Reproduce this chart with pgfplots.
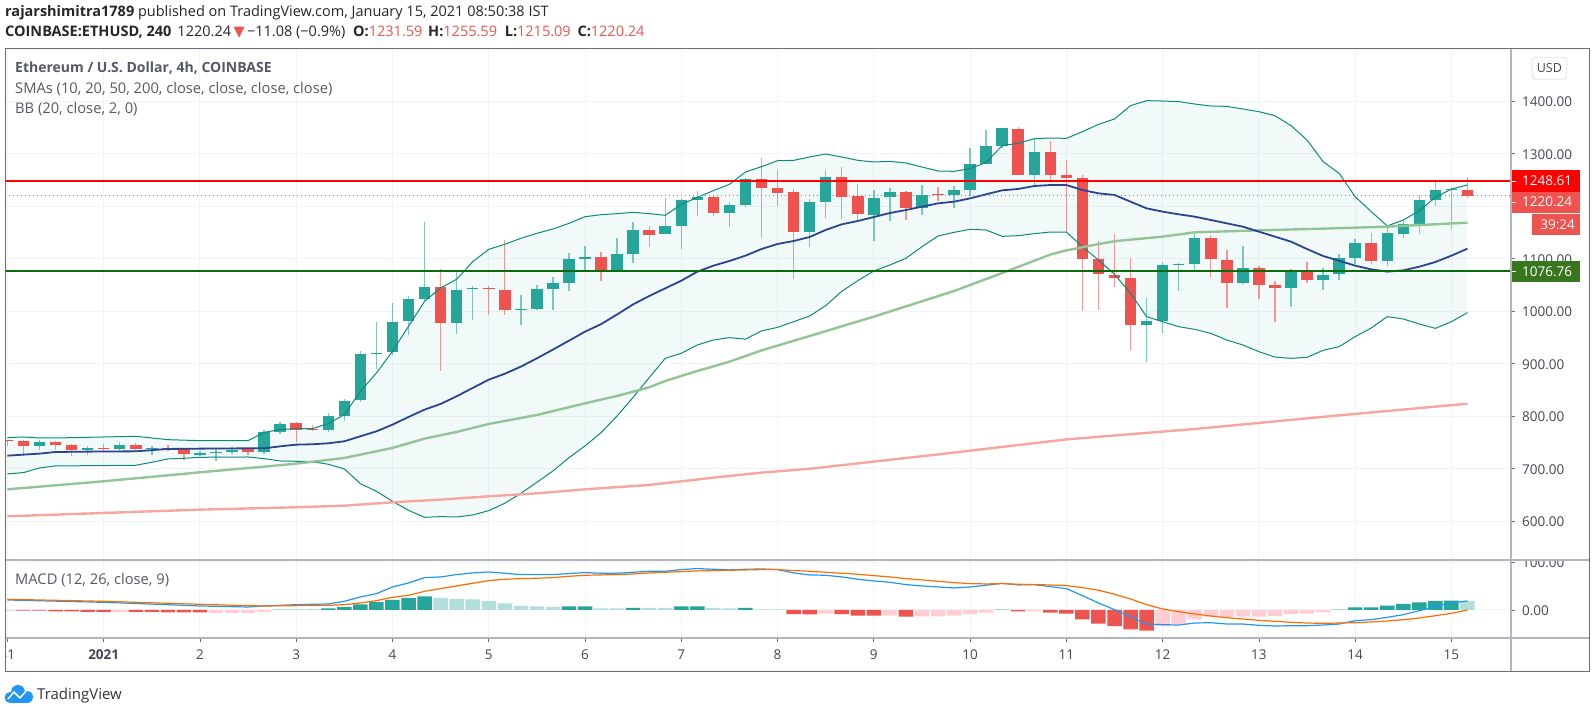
\documentclass[border=0pt]{standalone}
\usepackage{fontspec}
\usepackage{pgfplots}
\usepackage{pgfplotstable}
\pgfplotsset{compat=1.18}
\usepgfplotslibrary{fillbetween}
\setmainfont{Open Sans}
\newfontfamily\dejavu{DejaVu Sans}
\definecolor{cgreen}{HTML}{26A69A}
\definecolor{cred}{HTML}{EF5350}
\definecolor{cpink}{HTML}{FFCDD2}
\definecolor{clight}{HTML}{B2DFDB}
\definecolor{bbline}{HTML}{0B8A7A}
\definecolor{navy1}{HTML}{2B4490}
\definecolor{sma50}{HTML}{93C495}
\definecolor{sma200}{HTML}{F9A59F}
\definecolor{gridc}{HTML}{F0F3FA}
\definecolor{txt}{HTML}{434651}
\definecolor{axisc}{HTML}{B2B5BE}
\definecolor{framec}{HTML}{6A6D78}
\definecolor{macdb}{HTML}{2196F3}
\definecolor{macdo}{HTML}{FF6D00}
\definecolor{tagg}{HTML}{38761D}
\definecolor{hl}{HTML}{0B6B0B}
\pgfplotstableread{
k top bot hi lo
2 750.5 743.5 755 736.5
5 739.7 736.5 744 725.7
7 746 737.8 750.5 731.4
9 740.3 738.4 744 726.3
12 730.8 727 733 724
13 732.7 731.4 738 715.5
14 736.5 732.7 742 727.6
16 770 731.4 774.6 729
17 786 770 788.6 766.3
20 800.6 773.3 807 769.5
21 829.8 801.3 833.6 791.7
22 919.3 830.5 925 826.7
23 921.3 920 979 890.8
24 980.3 921.9 1015 917.4
25 1023.5 981 1028.6 954.3
26 1046.3 1024 1169.5 1017
28 1041.3 977.8 1075 956.2
29 1043.8 1041.9 1049 982.8
32 1004.4 1002.5 1030.5 974.6
33 1043.1 1003.7 1050 1002.5
34 1053.3 1043.1 1066 1002.5
35 1099.6 1054.5 1111.7 1039.3
36 1103.4 1100.2 1125 1076.8
38 1109 1076.8 1139 1076.8
39 1154.9 1109.8 1170 1091.4
41 1163 1147.2 1215.8 1147.2
42 1211.3 1163 1215 1119.3
43 1217.7 1212 1229 1181.5
45 1202.5 1187.9 1208 1160
46 1251.3 1202.5 1253 1199.3
50 1208.2 1151.7 1214 1123
51 1255.2 1208.8 1269 1177.7
54 1215.8 1183.4 1230.4 1134.5
55 1227.2 1217 1234.2 1172.6
57 1220.9 1197.4 1240 1184
59 1231 1221.5 1238.6 1196
60 1280.5 1231.7 1310.4 1219.6
61 1314.8 1281.2 1345.3 1280.5
62 1349 1314.8 1349 1310.4
64 1303.4 1260.2 1327.5 1240.5
71 982.1 973.9 1024.7 904
72 1088.2 982.1 1094.5 959.3
73 1089.4 1087.5 1092 1039.3
74 1140.2 1089.4 1149.8 1076.8
77 1081.8 1053.9 1125 1052.6
80 1075.5 1045 1080 1008.8
82 1069.1 1060.3 1083 1041.2
83 1101.5 1071 1109.1 1060.3
84 1130 1102.2 1137 1090.7
86 1148.5 1095.8 1161.2 1086.9
87 1165.6 1147.9 1172.6 1139.6
88 1211.3 1166.3 1221.5 1147.9
89 1230.4 1212.6 1247.5 1201.2
90 1233.6 1231 1234.8 1157.4
}\candG
\pgfplotstableread{
k top bot hi lo
0 754.3 753 755.5 742.8
1 753 743.5 754 729
3 750.5 746 753 736.5
4 746 736.5 748 724
6 739.7 737.8 747 732.7
8 746 737.8 748.6 734
10 739.7 737 746 734
11 737 727.6 738 717.5
15 737.8 731.4 740 725.7
18 786.7 774.6 788.6 751.7
19 775.9 773.3 783.5 771.4
27 1046.3 977.8 1080 885.7
30 1043.8 1041.9 1047.6 992.4
31 1041.3 1001.9 1135.8 993.6
37 1102.8 1076.8 1113.6 1058.3
40 1154.2 1146 1162.5 1123
44 1217.7 1187.2 1219.6 1181.5
47 1251.3 1234.8 1292 1139.6
48 1234.8 1226 1269.8 1201.2
49 1227.2 1151.7 1233 1062
52 1255.2 1218.3 1274.8 1176.4
53 1219.6 1184.7 1242.5 1172
56 1227.2 1197.4 1229 1174.5
58 1222.8 1220.9 1236.7 1210.7
63 1347.2 1260.2 1351 1260.2
65 1303.4 1259.6 1325 1250
66 1259 1254.5 1288.2 1151.7
67 1254.5 1100.2 1259.6 1000.6
68 1099.6 1070.4 1133.9 1002.5
69 1069.1 1062.8 1147.2 1046.9
70 1062.8 973.9 1101.5 926.3
75 1140.2 1099 1144.7 1066
76 1098.3 1053.9 1116.8 1006.3
78 1081.8 1049.4 1086.3 1023.4
79 1049.4 1045 1057 979.6
81 1075.5 1059.6 1093.9 1053.9
85 1130 1095.8 1148.5 1089.4
91 1231.59 1220.24 1255.59 1215.09
}\candR
\pgfplotstableread{
k v
0 759.4
1 760.6
2 758.7
3 758.7
8 761.9
10 755.5
12 753.6
15 753.6
16 769.5
17 774.6
18 776.5
19 776.5
20 786
21 803.2
22 847.6
23 882.5
24 923.8
25 971.4
26 1019
27 1044.4
28 1061
29 1094.6
30 1118
31 1127.6
32 1139
33 1148.5
34 1156.8
35 1167.5
36 1180.2
37 1184
38 1186
39 1188.5
40 1186
41 1182.8
42 1203.7
43 1217
44 1229.8
45 1241.8
46 1265.3
47 1275.5
48 1286.9
49 1287.5
50 1293.9
51 1299.6
52 1293.9
53 1287.5
54 1284.4
55 1285.6
56 1282.5
57 1274.8
58 1267.2
59 1266.6
60 1271.7
61 1283.7
62 1315.5
63 1320
64 1328.8
65 1330
66 1329.4
67 1342.1
68 1356.1
69 1366.3
70 1391.7
71 1401.2
72 1400.5
73 1399.3
74 1394.8
75 1391
76 1390.4
77 1385.3
78 1380.2
79 1372.6
80 1353.6
81 1326.3
82 1285
83 1262.8
84 1218.3
85 1189.8
86 1162.5
87 1173.9
88 1191.7
89 1217
90 1232.9
91 1240.6
}\bbU
\pgfplotstableread{
k v
0 690.2
1 692.7
2 701.6
3 705.4
8 706.7
9 712.4
10 718.7
11 720
12 721.9
15 722.5
16 719.3
17 714.9
18 714.3
19 713.6
20 708.6
21 699.7
22 671.7
23 657.1
24 638.1
25 620.9
26 607.6
27 608.9
28 608.2
29 612
30 620.3
31 634.3
32 653.3
33 674.3
34 695.8
35 721.2
36 743.5
37 768.9
38 800.6
39 836.1
40 873.6
41 910.4
42 920
43 935.8
44 945.4
45 949.8
46 947
47 962.5
48 969.4
49 980.2
50 991
51 1010.7
52 1038
53 1058.3
54 1076.8
55 1088.2
56 1100.9
57 1123
58 1143.4
59 1150.4
60 1156.1
61 1154.8
62 1142.8
63 1144
64 1147.9
65 1151
66 1151
67 1123
68 1097.7
69 1070.4
70 1034.2
71 989.8
72 980.2
73 970.7
74 965.6
75 958
76 945.3
77 935.8
78 923.1
79 912.9
80 910.4
81 912.3
82 925.6
83 932.6
84 951.7
85 968.2
86 989.8
87 985.3
88 975.8
89 967.5
90 980.2
91 997.4
}\bbL
\pgfplotstableread{
k v
0 725
2 728.9
3 732
5 732.7
8 733.3
10 737.8
12 738.4
15 739
16 739
17 742.8
18 746
19 746.7
20 748.6
21 752.4
22 761.9
23 771.4
24 784.1
25 798.7
26 812.7
27 823.5
28 838.1
29 854
30 869.8
31 881
32 894.6
33 910.4
34 927
35 944
36 961.2
37 975.5
38 994
39 1013.2
40 1029.1
41 1043.7
42 1058.3
43 1075.5
44 1086.9
45 1095.8
46 1106
47 1118.6
48 1128.2
49 1133.9
50 1141.5
51 1154.9
52 1165.6
53 1172
54 1179.6
55 1187.2
56 1192.9
57 1199.3
58 1205.6
59 1208.8
60 1215.1
61 1222.8
62 1230.4
63 1233
64 1238.6
65 1240.5
66 1240.5
67 1231
68 1224.7
69 1221.5
70 1208.8
71 1196.1
72 1189.8
73 1184.7
74 1180.2
75 1173.9
76 1167.5
77 1161.2
78 1151.7
79 1142.2
80 1132.6
81 1118.6
82 1105.3
83 1096.4
84 1086.9
85 1079.9
86 1075.5
87 1078
88 1085
89 1093.9
90 1106
91 1119.3
}\smaA
\pgfplotstableread{
k v
0 660.9
6 676.2
12 693.3
16 704.1
18 709.8
21 720.6
24 739.7
26 757.5
28 770.2
30 785.4
33 802.5
36 824.7
38 838.7
40 855.2
41 867.3
43 886.3
45 904
47 925.5
50 952.9
54 989.8
59 1038.6
62 1072.9
65 1108
66 1116
67 1122
68 1128
69 1133.5
72 1142.2
74 1150.4
78 1154.2
82 1157.4
86 1161.2
91 1168.8
}\smaB
\pgfplotstableread{
k v
0 609.5
6 615.9
12 622.2
18 626.7
21 629.8
24 636.2
27 641.3
30 647.6
33 653.3
36 660.9
40 669.2
44 683.1
47 692.7
50 700
58 727.4
66 756
74 775.8
82 799
91 824
}\smaC
\pgfplotstableread{
k v
0 21
6 16.1
10 11.2
12 8.4
15 6.3
16 8.4
18 11.2
20 12.6
21 18.2
22 27.3
23 34.3
24 48.3
25 56.7
26 67.9
27 69.3
28 74.2
29 77.7
30 79.8
31 77
32 74.2
33 74.2
34 74.2
35 76.3
36 78.4
37 77
38 77
39 79.1
40 81.2
41 81.2
42 84.7
43 86.8
44 85.4
45 84
46 85.4
47 86
48 84.7
49 77.7
50 73.5
51 72.8
52 69.3
53 64.4
54 60.9
55 58.1
56 53.2
57 50.4
58 48.3
59 46.2
60 48.3
61 51.8
62 56
63 52.5
64 53.2
65 49
66 44.8
67 30.1
68 14.7
69 0.7
70 -14
71 -29.4
72 -30.8
73 -31.5
74 -27.3
75 -26.6
76 -29.4
77 -29.4
78 -32.2
79 -33.6
80 -32.9
81 -32.9
82 -31.5
83 -29.4
84 -22.4
85 -20.3
86 -15.4
87 -9.8
88 -1.4
89 7.7
90 14.7
91 18.9
}\macdL
\pgfplotstableread{
k v
0 22.4
6 18.2
10 14
12 11.9
15 9.1
16 8.4
18 9.1
20 9.8
21 11.2
22 14.7
23 19.6
24 26.6
25 30.8
26 39.2
27 44.8
28 50.4
29 56
30 61.6
31 64.4
32 65.8
33 66.5
34 67.9
35 70.7
36 72.8
37 73.5
38 74.2
39 75.6
40 77.7
41 79.1
42 80.5
43 81.9
44 82.6
45 83.3
46 84
47 84.7
48 84.7
49 82.6
50 81.2
51 79.1
52 77
53 74.9
54 72
55 69.3
56 65.8
57 63
58 60.2
59 57.4
60 55.3
61 54.6
62 55.3
63 53.9
64 53.2
65 52.5
66 51.1
67 46.9
68 41.3
69 32.9
70 23.1
71 11.2
72 2.1
73 -3.5
74 -8.4
75 -12.6
76 -16.1
77 -18.9
78 -21.7
79 -23.8
80 -25.9
81 -27.3
82 -28
83 -27.3
84 -26.6
85 -25.2
86 -23.1
87 -20.3
88 -16.8
89 -11.9
90 -7
91 0
}\macdS
\newcommand{\candles}[2]{%
  \addplot[draw=none, mark=none, forget plot,
    error bars/.cd, y dir=both, y explicit, error mark=none,
    error bar style={line width=1.4pt, color=#2, opacity=0.6}]
    table[x=k, y=top, y error plus expr=\thisrow{hi}-\thisrow{top}, y error minus expr=\thisrow{top}-\thisrow{lo}] {#1};
  \addplot[draw=none, mark=none, forget plot,
    error bars/.cd, y dir=minus, y explicit, error mark=none,
    error bar style={line width=11.5pt, color=#2}]
    table[x=k, y=top, y error minus expr=\thisrow{top}-\thisrow{bot}] {#1};
}
\begin{document}
\begin{tikzpicture}
\begin{axis}[
  name=main, at={(5pt,148pt)}, anchor=south west,
  scale only axis, width=1506pt, height=509pt,
  xmin=-0.15, xmax=93.71, ymin=530.1, ymax=1499.6,
  axis line style={draw=none},
  xtick={0,6,...,90}, xticklabels={}, major x tick style={draw=none},
  ytick={600,700,800,900,1000,1100,1200,1300,1400},
  yticklabels={600.00,700.00,800.00,900.00,1000.00,1100.00,{},1300.00,1400.00},
  ytick pos=right, yticklabel pos=right, ytick align=outside,
  major tick length=4pt, y tick style={color=framec,line width=0.8pt},
  yticklabel style={font=\fontsize{13.5}{14}\selectfont, text=txt, inner sep=0pt, xshift=7pt, yshift=-0.5pt},
  grid=major, major grid style={color=gridc, line width=1pt},
]
\addplot[draw=none, name path=U, forget plot] table[x=k,y=v] {\bbU};
\addplot[draw=none, name path=L, forget plot] table[x=k,y=v] {\bbL};
\addplot[fill=cgreen, fill opacity=0.06, forget plot] fill between[of=U and L];
\candles{\candG}{cgreen}
\candles{\candR}{cred}
\addplot[color=bbline, line width=1pt] table[x=k,y=v] {\bbU};
\addplot[color=bbline, line width=1pt] table[x=k,y=v] {\bbL};
\addplot[color=sma200, line width=2.4pt] table[x=k,y=v] {\smaC};
\addplot[color=sma50, line width=2.4pt] table[x=k,y=v] {\smaB};
\addplot[color=navy1, line width=1.8pt] table[x=k,y=v] {\smaA};
\addplot[color=cred, line width=1pt, dash pattern=on 1pt off 3pt] coordinates {(-0.15,1220.24)(93.71,1220.24)};
\addplot[color=red, line width=2.4pt] coordinates {(-0.15,1248.61)(93.71,1248.61)};
\addplot[color=hl, line width=2.4pt] coordinates {(-0.15,1076.76)(93.71,1076.76)};
\end{axis}
\begin{axis}[
  name=macd, at={(5pt,68pt)}, anchor=south west,
  scale only axis, width=1506pt, height=77pt,
  xmin=-0.15, xmax=93.71, ymin=-58.7, ymax=102.7,
  axis line style={draw=none},
  xtick={0,6,...,90},
  xticklabels={31,\textbf{2021},2,3,4,5,6,7,8,9,10,11,12,13,14,15},
  ytick={0,100}, yticklabels={0.00,100.00},
  xtick pos=bottom, xtick align=outside,
  ytick pos=right, yticklabel pos=right, ytick align=outside,
  major tick length=4pt, tick style={color=framec,line width=0.8pt},
  yticklabel style={font=\fontsize{13.5}{14}\selectfont, text=txt, inner sep=0pt, xshift=7pt, yshift=-0.5pt},
  xticklabel style={font=\fontsize{13.5}{14}\selectfont, text=txt, inner sep=0pt, yshift=-8pt},
  grid=major, major grid style={color=gridc, line width=1pt},
]
\addplot[ybar, bar width=14.5pt, bar shift=0pt, fill=cred, draw=none, forget plot] coordinates {
(1,-1.4)(2,-1.4)(3,-2.8)(4,-2.8)(5,-4.2)(6,-4.2)(8,-4.2)(9,-4.2)(10,-4.9)(11,-4.9)(12,-4.9)
(49,-8.4)(50,-9.1)(52,-8.4)(53,-11.9)(54,-11.9)(56,-14)(63,-2.8)(65,-5.6)(66,-7.7)(67,-19.6)(68,-28.7)(69,-33.6)(70,-40.6)(71,-43.4)};
\addplot[ybar, bar width=14.5pt, bar shift=0pt, fill=cpink, draw=none, forget plot] coordinates {
(0,-2.1)(7,-4.2)(13,-6.3)(14,-6.3)(15,-6.3)(16,-4.2)(51,-7.7)(55,-11.9)(57,-13.3)(58,-13.3)(59,-11.9)(60,-8.4)(61,-5.6)(64,-2.8)
(72,-33.6)(73,-30.1)(74,-19.6)(75,-14)(76,-14.7)(77,-14)(78,-14)(79,-12.6)(80,-8.4)(81,-7.7)(82,-4.9)};
\addplot[ybar, bar width=14.5pt, bar shift=0pt, fill=cgreen, draw=none, forget plot] coordinates {
(17,.7)(18,.7)(19,.7)(20,3.5)(21,6.3)(22,11.9)(23,16.8)(24,21)(25,25.2)(26,28.7)(35,7.7)(36,7.7)(39,4.2)(42,7.7)(43,7.7)(46,4.2)(62,.7)
(83,.7)(84,5.6)(85,5.6)(86,9.1)(87,12.6)(88,16.1)(89,18.9)(90,19.6)};
\addplot[ybar, bar width=14.5pt, bar shift=0pt, fill=clight, draw=none, forget plot] coordinates {
(27,25.2)(28,23.1)(29,22.4)(30,18.9)(31,14)(32,8.4)(33,7.7)(34,6.3)(37,3.5)(38,3.5)(40,4.2)(41,4.2)(44,4.2)(45,3.5)(47,1.4)(48,1.4)(91,18.9)};
\addplot[color=macdb, line width=1.2pt] table[x=k,y=v] {\macdL};
\addplot[color=macdo, line width=1.2pt] table[x=k,y=v] {\macdS};
\end{axis}
\begin{scope}[x=1pt,y=-1pt,yshift=706pt]
% masks and frame
\fill[white] (0,640) rectangle (4.5,671);
\fill[white] (1512,548) rectangle (1588,559);
\draw[axisc, line width=2.5pt] (5,560) -- (1589,560);
\draw[axisc, line width=1.5pt] (5,638) -- (1589,638);
\draw[axisc, line width=1.5pt] (1511,49) -- (1511,672);
\draw[framec, line width=1pt] (5,48.5) rectangle (1589.5,672);
% price tags
\fill[red] (1511.8,170.3) rectangle (1580,191.7);
\fill[cred] (1511.8,191.7) rectangle (1580,212.7);
\fill[cred] (1532,214) rectangle (1580,235);
\fill[tagg] (1511.8,260.7) rectangle (1580,281.7);
\tikzset{tag/.style={text=white, anchor=base west, inner sep=0pt, font=\fontsize{13.5}{14}\selectfont}}
\node[tag] at (1522,186) {1248.61};
\node[tag] at (1522,207) {1220.24};
\node[tag, anchor=base east] at (1575,229.5) {39:24};
\node[tag] at (1522,276.2) {1076.76};
\draw[white, line width=0.8pt] (1511.8,181) -- (1515.5,181);
\draw[white, line width=0.8pt] (1511.8,202) -- (1515.5,202);
\draw[white, line width=0.8pt] (1511.8,271) -- (1515.5,271);
% USD
\draw[fill=white, draw=gridc!70!framec!60, rounded corners=4pt, line width=0.8pt] (1532,57.3) rectangle (1566.7,79.3);
\node[anchor=center, text=txt, inner sep=0pt, font=\fontsize{12.5}{13}\selectfont] at (1549.3,68.3) {USD};
% headers
\tikzset{hd/.style={anchor=base west, inner sep=0pt, text=black!85, font=\fontsize{14.5}{15}\selectfont}}
\node[hd] at (5,17) {\textbf{rajarshimitra1789} published on TradingView.com, January 15, 2021 08:50:38 IST};
\node[hd] at (5,37) {\textbf{COINBASE:ETHUSD, 240}\hspace{6pt}1220.24\,{\dejavu\color{cred}▼}\,−11.08 (−0.9\%)\hspace{4pt} \textbf{O:}{\color{cred}1231.59}\hspace{2pt} \textbf{H:}{\color{cred}1255.59}\hspace{4pt} \textbf{L:}{\color{cred}1215.09}\hspace{3pt} \textbf{C:}{\color{cred}1220.24}};
\tikzset{lg/.style={anchor=base west, inner sep=0pt, text=txt!90, font=\fontsize{14.7}{15}\selectfont}}
\node[lg, font=\fontsize{14}{15}\selectfont] at (15,73) {\textbf{Ethereum / U.S. Dollar, 4h, COINBASE}};
\node[lg] at (15,93.5) {SMAs (10, 20, 50, 200, close, close, close, close)};
\node[lg] at (15,113.5) {BB (20, close, 2, 0)};
\node[lg] at (15,585) {MACD (12, 26, close, 9)};
% logo
\fill[macdb] (10,697.5) circle[radius=5.5];
\fill[macdb] (18,692) circle[radius=7];
\fill[macdb] (27,697) circle[radius=6];
\fill[macdb] (10,697) rectangle (27,703);
\draw[white, line width=1.5pt, line join=round] (8,699) -- (14,692) -- (20,698) -- (27,690);
\node[anchor=base west, inner sep=0pt, text=black!80, font=\fontsize{15}{15}\selectfont] at (37,699.5) {TradingView};
\end{scope}
\pgfresetboundingbox
\useasboundingbox (0,0) rectangle (1594pt,706pt);
\end{tikzpicture}
\end{document}
